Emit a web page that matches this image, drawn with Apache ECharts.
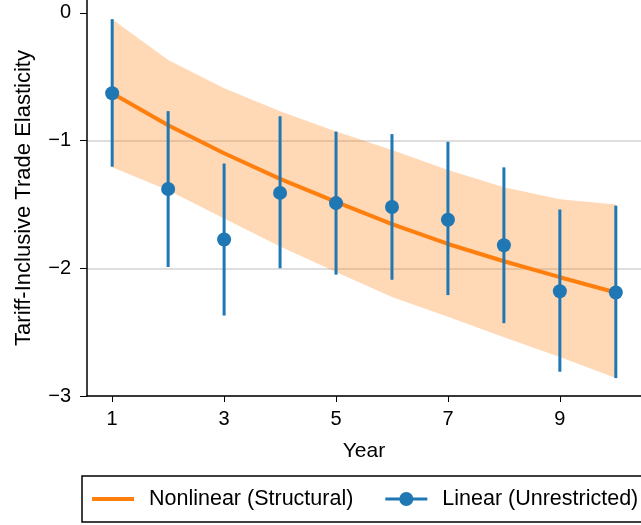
<!DOCTYPE html>
<html>
<head>
<meta charset="utf-8">
<script src="https://cdn.jsdelivr.net/npm/echarts@6/dist/echarts.min.js"></script>
<style>
  html, body { margin: 0; padding: 0; background: #fff; }
  #main { width: 641px; height: 525px; }
</style>
</head>
<body>
<div id="main"></div>
<script>
// values
var years = [1, 2, 3, 4, 5, 6, 7, 8, 9, 10];
var linearEst = [-0.63, -1.38, -1.775, -1.41, -1.49, -1.52, -1.62, -1.82, -2.18, -2.19];
var linearLo = [-1.205, -1.99, -2.37, -2.00, -2.05, -2.09, -2.21, -2.43, -2.81, -2.86];
var linearHi = [-0.05, -0.77, -1.18, -0.81, -0.93, -0.95, -1.01, -1.21, -1.54, -1.51];
var nonlinEst = [-0.63, -0.88, -1.10, -1.30, -1.48, -1.655, -1.81, -1.945, -2.07, -2.19];
var bandLo = [-1.21, -1.39, -1.61, -1.83, -2.03, -2.225, -2.38, -2.54, -2.695, -2.86];
var bandHi = [-0.05, -0.37, -0.59, -0.77, -0.93, -1.075, -1.23, -1.365, -1.46, -1.50];
var xTicks = [1, 3, 5, 7, 9];
var yTicks = [-3, -2, -1, 0];

var FONT = "'Liberation Sans', Arial, sans-serif";
var ORANGE = '#ff7f0e';
var BLUE = '#1f77b4';

var chart = echarts.init(document.getElementById('main'));

var option = {
    animation: false,
    backgroundColor: '#fff',
    textStyle: { fontFamily: FONT },
    grid: { left: 87, right: 0, top: 0, bottom: 129 },
    legend: {
        left: 82,
        top: 476,
        width: 640,
        orient: 'horizontal',
        borderColor: '#000',
        borderWidth: 1.5,
        borderRadius: 0,
        padding: [12, 14, 12, 10],
        itemWidth: 42,
        itemHeight: 14,
        itemGap: 32,
        symbolKeepAspect: true,
        textStyle: { fontSize: 21.5, color: '#000', fontFamily: FONT, padding: [0, 0, 0, 10] },
        data: [
            { name: 'Nonlinear (Structural)', icon: 'path://M0,0 L42,0 L42,4 L0,4 Z' },
            { name: 'Linear (Unrestricted)', icon: 'path://M0,5.6 L42,5.6 L42,8.4 L0,8.4 Z M21,0 A7,7 0 1,1 20.99,0 Z' }
        ]
    },
    xAxis: {
        type: 'value',
        min: 0.55,
        max: 10.45,
        name: 'Year',
        nameLocation: 'middle',
        nameGap: 45,
        nameTextStyle: { fontSize: 21, color: '#000', fontFamily: FONT },
        axisLine: { show: true, onZero: false, lineStyle: { color: '#000', width: 1.5 } },
        axisTick: { show: true, length: 6, customValues: xTicks, lineStyle: { color: '#000', width: 1 } },
        axisLabel: { customValues: xTicks, margin: 13, fontSize: 20, color: '#000', fontFamily: FONT },
        splitLine: { show: false }
    },
    yAxis: {
        type: 'value',
        min: -3,
        max: 0.1,
        interval: 1,
        name: 'Tariff-Inclusive Trade Elasticity',
        nameLocation: 'middle',
        nameGap: 52,
        nameTextStyle: { fontSize: 22, color: '#000', fontFamily: FONT },
        axisLine: { show: true, onZero: false, lineStyle: { color: '#000', width: 1.5 } },
        axisTick: { show: true, length: 7, customValues: yTicks, lineStyle: { color: '#000', width: 1 } },
        axisLabel: {
            customValues: yTicks,
            margin: 16,
            fontSize: 20,
            color: '#000',
            fontFamily: FONT,
            formatter: function (v) { return v < 0 ? '\u2212' + Math.abs(v) : String(v); }
        },
        splitLine: { show: true, showMaxLine: false, lineStyle: { color: '#dedede', width: 2 } }
    },
    series: [
        {
            // confidence band of the structural estimate
            name: 'band',
            type: 'custom',
            silent: true,
            z: 1,
            data: years.map(function (y, i) { return [y, bandLo[i], bandHi[i]]; }),
            encode: { x: 0, y: [1, 2] },
            renderItem: function (params, api) {
                if (params.dataIndex !== 0) return;
                var pts = [];
                for (var i = 0; i < years.length; i++) pts.push(api.coord([years[i], bandHi[i]]));
                for (var j = years.length - 1; j >= 0; j--) pts.push(api.coord([years[j], bandLo[j]]));
                return {
                    type: 'polygon',
                    shape: { points: pts },
                    style: { fill: 'rgba(255,127,14,0.3)', stroke: null }
                };
            }
        },
        {
            name: 'Nonlinear (Structural)',
            type: 'line',
            z: 3,
            symbol: 'none',
            color: ORANGE,
            lineStyle: { color: ORANGE, width: 4 },
            data: years.map(function (y, i) { return [y, nonlinEst[i]]; })
        },
        {
            // error bars
            name: 'Linear (Unrestricted)',
            type: 'custom',
            z: 4,
            color: BLUE,
            data: years.map(function (y, i) { return [y, linearLo[i], linearHi[i]]; }),
            encode: { x: 0, y: [1, 2] },
            renderItem: function (params, api) {
                var a = api.coord([api.value(0), api.value(1)]);
                var b = api.coord([api.value(0), api.value(2)]);
                return {
                    type: 'line',
                    shape: { x1: a[0], y1: a[1], x2: b[0], y2: b[1] },
                    style: { stroke: BLUE, lineWidth: 3 }
                };
            }
        },
        {
            name: 'Linear (Unrestricted)',
            type: 'scatter',
            z: 5,
            symbol: 'circle',
            symbolSize: 14,
            color: BLUE,
            itemStyle: { color: BLUE, opacity: 1 },
            data: years.map(function (y, i) { return [y, linearEst[i]]; })
        }
    ]
};

chart.setOption(option);
</script>
</body>
</html>
